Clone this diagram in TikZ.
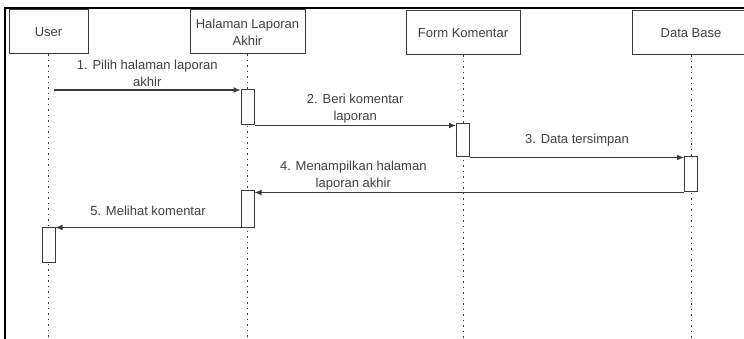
\documentclass[tikz,border=0pt]{standalone}
\usepackage{fontspec}
\setmainfont{Liberation Sans}
\usetikzlibrary{arrows.meta,positioning}
\definecolor{linegray}{HTML}{3A3A3A}
\definecolor{textgray}{HTML}{404040}

\begin{document}
\begin{tikzpicture}[x=1pt,y=-1pt,
    head/.style={draw=linegray,line width=1pt,minimum height=44pt,inner sep=0pt,align=center,text=textgray,font=\fontsize{13}{17}\selectfont},
    actbox/.style={draw=linegray,line width=1pt,fill=white,minimum width=13pt,minimum height=35pt,inner sep=0pt},
    lifeline/.style={draw=linegray,line width=1pt,dash pattern=on 1.5pt off 4pt},
    msg/.style={draw=linegray,line width=1.2pt,-{Latex[length=7pt,width=6pt]}},
    lbl/.style={text=textgray,align=center,font=\fontsize{13}{17}\selectfont,yshift=17pt}]
    \clip (0,0) rectangle (744,339);
    \fill[white] (0,0) rectangle (744,339);
    % frame
    \draw[line width=2pt,black] (5,339) -- (5,8) -- (744,8);
    % participants
    \node[head,minimum width=79pt] (user) at (48.5,32) {User};
    \node[head,minimum width=115pt] (hal) at (247.5,32) {Halaman Laporan\\Akhir};
    \node[head,minimum width=114pt] (form) at (463,33) {Form Komentar};
    \node[head,minimum width=118pt] (db) at (691,33) {Data Base};
    \foreach \p in {user,hal,form,db} \draw[lifeline] (\p.south) -- (\p.south |- 0,339);
    % activations
    \node[actbox] (a1) at (hal.south |- 0,107.5) {};
    \node[actbox,minimum height=33pt] (a2) at (form.south |- 0,140.5) {};
    \node[actbox] (a3) at (db.south |- 0,174.5) {};
    \node[actbox,minimum height=36pt] (a4) at (hal.south |- 0,209) {};
    \node[actbox] (a5) at (user.south |- 0,244.5) {};
    \coordinate (u1) at (54,90);
    % messages
    \draw[msg] (u1) -- (u1 -| a1.west) node[lbl,midway] {1. Pilih halaman laporan\\akhir};
    \draw[msg] (a1.south east) -- (a1.south east -| a2.west) node[lbl,midway] {2. Beri komentar\\laporan};
    \draw[msg] (a2.south east) -- (a2.south east -| a3.west) node[lbl,midway] {3. Data tersimpan};
    \draw[msg] (a3.south west) -- (a3.south west -| a4.east) node[lbl,pos=0.77] {4. Menampilkan halaman\\laporan akhir};
    \draw[msg] (a4.south west) -- (a4.south west -| a5.east) node[lbl,midway] {5. Melihat komentar};
  \end{tikzpicture}
\end{document}
